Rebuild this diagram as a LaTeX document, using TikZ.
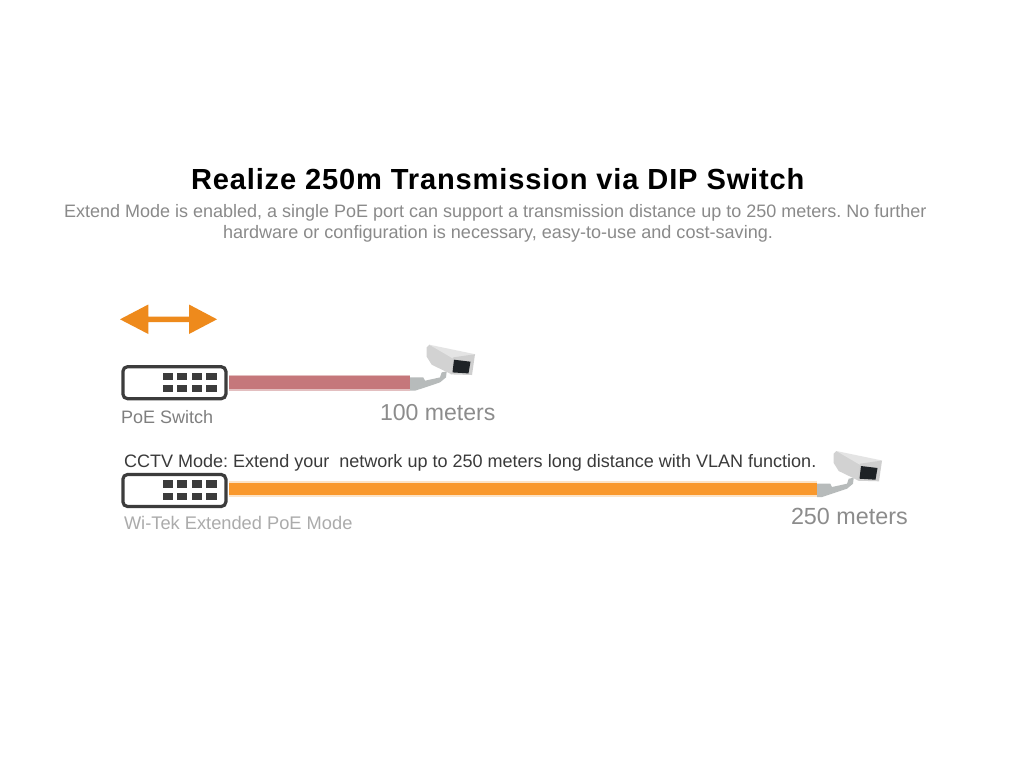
\documentclass[tikz,border=0pt]{standalone}
\usepackage{fontspec}
\setmainfont{Liberation Sans}
\frenchspacing
\definecolor{subgrey}{HTML}{8A8A8A}
\definecolor{labgrey}{HTML}{7F7F7F}
\definecolor{paleg}{HTML}{ABABAB}
\definecolor{dist}{HTML}{8C8C8C}
\definecolor{txt}{HTML}{3A3A3A}
\definecolor{orangea}{HTML}{EE8A1C}
\definecolor{cableo}{HTML}{F9982C}
\definecolor{cableh}{HTML}{FCE3C6}
\definecolor{cabler}{HTML}{C5777B}
\definecolor{cablerh}{HTML}{E3BFC0}
\definecolor{swline}{HTML}{3C3C3C}
\definecolor{camtop}{HTML}{E4E4E4}
\definecolor{camside}{HTML}{D2D2D2}
\definecolor{camfront}{HTML}{CFCFCF}
\definecolor{cambr}{HTML}{B7BBBB}
\definecolor{lens}{HTML}{1E2226}
\tikzset{
  x=0.75pt,y=-0.75pt,
  switchbox/.style={draw=swline,line width=2.4pt,rounded corners=3.5pt,fill=white,minimum width=77.25pt,minimum height=24pt,inner sep=0pt},
  portbox/.style={fill=swline,minimum width=7.8pt,minimum height=5.6pt,inner sep=0pt},
  lab/.style={anchor=base west,inner sep=0pt,outer sep=0pt},
  cam/.pic={
    \fill[cambr] (0,-5.3) -- (13.3,-5.3) -- (15,-2) -- (30,-5.3) -- (31.7,-10.3) -- (36.7,-11.3) -- (36,-5.3) -- (30,-.3) -- (13.3,5.3) -- (5,8) -- (0,8) -- cycle;
    \fill[camside] (16.7,-35.3) -- (19.3,-38) -- (43.3,-27) -- (41.7,-8.3) -- (21.7,-18) -- (16.7,-26) -- cycle;
    \fill[camtop] (19.3,-38) -- (65,-28.5) -- (43.3,-24) -- cycle;
    \fill[camfront] (65,-28.5) -- (62,-7.7) -- (40.7,-8.3) -- (43,-25.3) -- cycle;
    \fill[lens] (44,-23) -- (60.5,-21) -- (58.5,-9.3) -- (42.5,-10.3) -- cycle;
  }
}
\begin{document}
\begin{tikzpicture}
\useasboundingbox (0,0) rectangle (1024,768);
\fill[white] (0,0) rectangle (1024,768);
% texts
\node[lab,font=\fontsize{21.8pt}{24pt}\selectfont\bfseries\addfontfeature{LetterSpace=2.9},text=black] (title) at (191,189) {Realize 250m Transmission via DIP Switch};
\node[lab,font=\fontsize{13.5pt}{15pt}\selectfont,text=subgrey] (sub1) at (64,217) {Extend Mode is enabled, a single PoE port can support a transmission distance up to 250 meters. No further};
\node[lab,font=\fontsize{13.55pt}{15pt}\selectfont,text=subgrey] (sub2) at (223,238) {hardware or configuration is necessary, easy-to-use and cost-saving.};
% arrow
\fill[orangea] (120,319.3) -- (148.3,304.5) -- (148.3,316.7) -- (189,316.7) -- (189,304.5) -- (217,319.3) -- (189,334) -- (189,322) -- (148.3,322) -- (148.3,334) -- cycle;
% first row
\coordinate (end1) at (410,382.7);
\coordinate (end2) at (817,489);
\node[switchbox] (sw1) at (174.4,382.7) {};
\draw[cablerh,line width=12pt] (sw1.east) ++(1.5,0) -- (end1);
\draw[cabler,line width=9.5pt] (sw1.east) ++(1.5,0) -- (end1);
\foreach \i/\xx in {a/167.7,b/182,c/197,d/211.5}{
  \node[portbox] (p1\i) at (\xx,376.5) {};
  \node[portbox] (q1\i) at (\xx,388.5) {};
}
\pic at (end1) {cam};
\node[lab,font=\fontsize{13.5pt}{15pt}\selectfont,text=labgrey] (l1) at (121,423) {PoE Switch};
\node[lab,font=\fontsize{17.3pt}{18pt}\selectfont,text=dist] (d1) at (380,420) {100 meters};
% second row
\node[lab,font=\fontsize{13.52pt}{15pt}\selectfont,text=txt] (cctv) at (124,467) {CCTV Mode: Extend your\ \ network up to 250 meters long distance with VLAN function.};
\node[switchbox] (sw2) at (174.4,490.5) {};
\draw[cableh,line width=12.5pt] (sw2.east) ++(1.5,-1.5) -- (end2);
\draw[cableo,line width=8.5pt] (sw2.east) ++(1.5,-1.5) -- (end2);
\foreach \i/\xx in {a/167.7,b/182,c/197,d/211.5}{
  \node[portbox] (p2\i) at (\xx,484) {};
  \node[portbox] (q2\i) at (\xx,496.5) {};
}
\pic at (end2) {cam};
\node[lab,font=\fontsize{13.7pt}{15pt}\selectfont,text=paleg] (l2) at (124,529) {Wi-Tek Extended PoE Mode};
\node[lab,font=\fontsize{17.5pt}{18pt}\selectfont,text=dist] (d2) at (791,524) {250 meters};
\end{tikzpicture}
\end{document}
